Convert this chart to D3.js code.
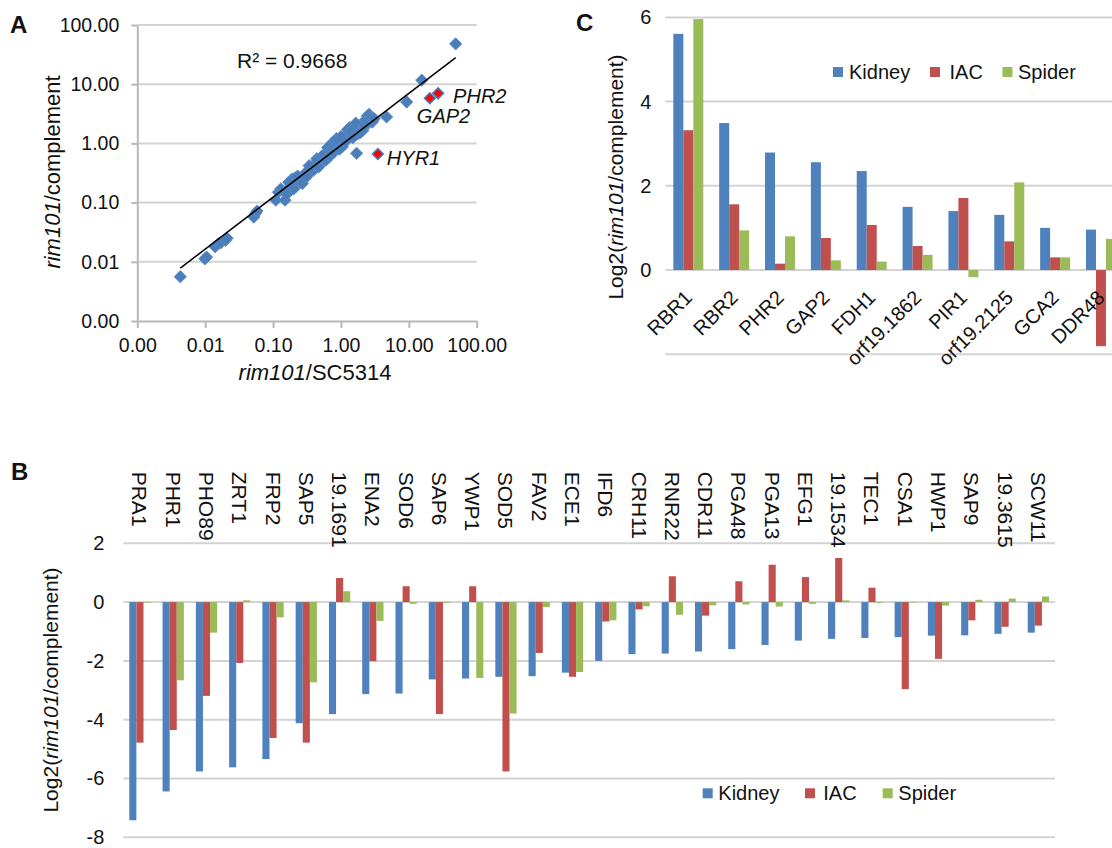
<!DOCTYPE html>
<html><head><meta charset="utf-8">
<script src="https://cdn.jsdelivr.net/npm/d3@7"></script>
<style>
html,body{margin:0;padding:0;background:#fff;}
svg{display:block;font-family:"Liberation Sans",Arial,sans-serif;}
</style></head><body>
<svg id="fig" width="1112" height="848"></svg>
<script>
// ---------------- Panel A data ----------------
const scatterX = [0.0043,0.0099,0.0105,0.014,0.0155,0.017,0.020,0.021,0.052,0.055,0.058,
  0.11,0.12,0.13,0.15,0.16,0.18,0.19,0.21,0.22,0.24,0.26,0.28,0.30,0.32,0.35,0.37,0.40,0.42,
  0.45,0.48,0.50,0.55,0.58,0.62,0.66,0.70,0.72,0.76,0.80,0.82,0.88,0.92,0.98,1.05,1.10,1.20,
  1.30,1.35,1.45,1.55,1.60,1.70,1.75,1.85,2.00,2.10,2.30,2.45,2.55,2.70,2.90,4.70,9.30,15.5,49.0,
  0.17,0.20,0.23,0.27,0.31,0.34,0.39,0.44,0.47,0.53,0.60,0.64,0.68,0.74,0.78,0.86,0.95,1.00,
  1.15,1.25,1.40,1.50,1.65,1.90,2.20,2.40,2.60,2.80,3.10];
const scatterY = [0.0056,0.0112,0.012,0.018,0.020,0.021,0.023,0.025,0.057,0.065,0.072,
  0.11,0.15,0.17,0.11,0.14,0.19,0.25,0.26,0.19,0.22,0.27,0.25,0.31,0.34,0.33,0.40,0.43,0.38,
  0.50,0.45,0.55,0.52,0.62,0.58,0.75,0.68,0.95,1.05,0.80,1.10,0.90,1.00,1.15,0.88,1.05,1.30,
  1.55,1.85,1.30,1.65,1.95,0.68,1.45,1.75,2.10,1.65,2.50,2.90,2.20,2.60,2.30,2.80,5.00,11.7,48.0,
  0.22,0.17,0.28,0.21,0.27,0.42,0.35,0.55,0.40,0.62,0.52,0.85,0.60,0.80,0.70,1.20,0.80,1.30,
  1.05,1.70,1.60,1.25,2.20,1.50,2.00,2.40,3.10,2.70,2.60];
const highlightNames = ["PHR2","GAP2","HYR1"];
const highlightX = [27.0, 20.4, 3.5];
const highlightY = [7.0, 5.8, 0.66];
const trendA = 0.929, trendB = 0.877;   // power trendline y = a*x^b
const rSquaredLabel = "R\u00B2 = 0.9668";
const logTicks = [0.001,0.01,0.1,1,10,100];

// ---------------- Panel B data ----------------
const seriesNames = ["Kidney","IAC","Spider"];
const seriesColors = ["#4F81BD","#C0504D","#9BBB59"];
const genesB = ["PRA1","PHR1","PHO89","ZRT1","FRP2","SAP5","19.1691","ENA2","SOD6","SAP6","YWP1","SOD5","FAV2",
  "ECE1","IFD6","CRH11","RNR22","CDR11","PGA48","PGA13","EFG1","19.1534","TEC1","CSA1","HWP1","SAP9","19.3615","SCW11"];
const kidneyB = [-7.42,-6.44,-5.76,-5.62,-5.34,-4.12,-3.81,-3.13,-3.11,-2.63,-2.60,-2.54,-2.52,
  -2.40,-2.00,-1.77,-1.75,-1.68,-1.60,-1.46,-1.31,-1.25,-1.22,-1.19,-1.14,-1.13,-1.08,-1.04];
const iacB = [-4.78,-4.35,-3.19,-2.07,-4.62,-4.78,0.82,-2.01,0.54,-3.81,0.54,-5.76,-1.73,
  -2.54,-0.66,-0.25,0.88,-0.46,0.71,1.27,0.85,1.50,0.49,-2.96,-1.93,-0.62,-0.84,-0.80];
const spiderB = [-0.02,-2.66,-1.04,0.06,-0.52,-2.73,0.37,-0.64,-0.06,-0.03,-2.58,-3.79,-0.17,
  -2.38,-0.62,-0.14,-0.43,-0.11,-0.08,-0.15,-0.06,0.06,-0.03,-0.02,-0.12,0.08,0.12,0.19];
const ticksB = [-8,-6,-4,-2,0,2];

// ---------------- Panel C data ----------------
const genesC = ["RBR1","RBR2","PHR2","GAP2","FDH1","orf19.1862","PIR1","orf19.2125","GCA2","DDR48"];
const kidneyC = [5.61,3.49,2.79,2.56,2.35,1.50,1.40,1.31,1.00,0.96];
const iacC = [3.32,1.56,0.15,0.76,1.07,0.57,1.71,0.68,0.30,-1.81];
const spiderC = [5.96,0.94,0.80,0.23,0.20,0.36,-0.17,2.08,0.30,0.74];
const ticksC = [0,2,4,6];
const gridC = [-2,0,2,4,6];

// ---------------- drawing ----------------
const svg = d3.select("#fig");
svg.append("rect").attr("width",1112).attr("height",848).attr("fill","#fff");
const GRID = "#d3d3d3", AXIS = "#b8b8b8", TXT = "#111";
const plainNum = d => String(d);   // hyphen-minus like the reference

function styleAxis(g, fs){
  g.selectAll("text").attr("font-size",fs).attr("fill",TXT).attr("font-family","Liberation Sans, Arial, sans-serif");
  g.selectAll("line").attr("stroke",AXIS).attr("stroke-width",2);
  g.select(".domain").attr("stroke",AXIS).attr("stroke-width",2);
}
function panelLetter(t,x,y){
  svg.append("text").attr("x",x).attr("y",y).attr("font-size",24).attr("font-weight","bold").attr("fill",TXT).text(t);
}
function italicTitle(g, parts){
  parts.forEach(p=>g.append("tspan").attr("font-style",p[1]?"italic":"normal").text(p[0]));
}

// ===== Panel A =====
const xA = d3.scaleLog().domain([0.001,100]).range([137.3,476.7]);
const yA = d3.scaleLog().domain([0.001,100]).range([321,25]);
const gA = svg.append("g");
gA.selectAll("line.grid").data(logTicks.slice(1)).join("line")
  .attr("x1",xA(0.001)).attr("x2",xA(100)).attr("y1",d=>yA(d)).attr("y2",d=>yA(d))
  .attr("stroke",GRID).attr("stroke-width",2);
const fmt2 = d3.format(".2f");
const axAL = gA.append("g").attr("transform",`translate(${xA(0.001)},0)`)
  .call(d3.axisLeft(yA).tickValues(logTicks).tickFormat(fmt2).tickSize(6).tickSizeOuter(0).tickPadding(12));
styleAxis(axAL,19.5);
const axAB = gA.append("g").attr("transform",`translate(0,${yA(0.001)})`)
  .call(d3.axisBottom(xA).tickValues(logTicks).tickFormat(fmt2).tickSize(7).tickSizeOuter(0).tickPadding(10));
styleAxis(axAB,19.5);

const allX = scatterX.concat(highlightX);
const xExt = d3.extent(allX);

const diamond = d3.symbol(d3.symbolSquare, 76);
const pts = scatterX.map((x,i)=>({x, y:scatterY[i]}));
const ptG = gA.append("g");
ptG.selectAll("path").data(pts).join("path")
  .attr("d",diamond).attr("transform",d=>`translate(${xA(d.x)},${yA(d.y)}) rotate(45)`)
  .attr("fill","#4A7EBB").attr("stroke","#5b8ac4").attr("stroke-width",0.8);
// power trendline, drawn over the points
gA.append("path").datum(xExt)
  .attr("d", d3.line().x(d=>xA(d)).y(d=>yA(trendA*Math.pow(d,trendB))))
  .attr("stroke","#000").attr("stroke-width",1.5).attr("fill","none");
// R^2 text
gA.append("text").attr("x",237).attr("y",68).attr("font-size",21).attr("fill",TXT).text(rSquaredLabel);
// highlighted genes
const hl = highlightX.map((x,i)=>({x, y:highlightY[i], name:highlightNames[i]}));
const hlOff = {PHR2:[15,10], GAP2:[-13,25], HYR1:[9,11]};
gA.selectAll("path.hl").data(hl).join("path")
  .attr("d",d3.symbol(d3.symbolSquare,60)).attr("transform",d=>`translate(${xA(d.x)},${yA(d.y)}) rotate(45)`)
  .attr("fill","#FF0000").attr("stroke","#4A7EBB").attr("stroke-width",1.5);
gA.selectAll("text.hl").data(hl).join("text")
  .attr("x",d=>xA(d.x)+hlOff[d.name][0]).attr("y",d=>yA(d.y)+hlOff[d.name][1])
  .attr("font-size",20).attr("font-style","italic").attr("fill",TXT).text(d=>d.name);
// axis titles
const tAX = gA.append("text").attr("x",315).attr("y",380).attr("text-anchor","middle").attr("font-size",22).attr("fill",TXT);
italicTitle(tAX,[["rim101",true],["/SC5314",false]]);
const tAY = gA.append("text").attr("transform","translate(60,172) rotate(-90)").attr("text-anchor","middle").attr("font-size",22).attr("fill",TXT);
italicTitle(tAY,[["rim101",true],["/complement",false]]);
panelLetter("A",10,33);

// ===== Panel B =====
const xB = d3.scaleBand().domain(genesB).range([123.3,1055]);
const xBi = d3.scaleBand().domain(seriesNames).range([0.18*xB.bandwidth(),0.82*xB.bandwidth()]);
const yB = d3.scaleLinear().domain([-8,2]).range([837.3,543.3]);
const gB = svg.append("g");
gB.selectAll("line.grid").data(ticksB).join("line")
  .attr("x1",123.3).attr("x2",1055).attr("y1",d=>yB(d)).attr("y2",d=>yB(d))
  .attr("stroke",GRID).attr("stroke-width",2);
const axBL = gB.append("g").attr("transform","translate(123.3,0)")
  .call(d3.axisLeft(yB).tickValues(ticksB).tickFormat(plainNum).tickSize(0).tickPadding(19));
axBL.select(".domain").remove();
styleAxis(axBL,20);
const seriesB = [kidneyB, iacB, spiderB];
seriesB.forEach((vals,si)=>{
  gB.append("g").selectAll("rect").data(genesB.map((g,i)=>({g,v:vals[i]}))).join("rect")
    .attr("x",d=>xB(d.g)+xBi(seriesNames[si])).attr("width",xBi.bandwidth())
    .attr("y",d=>yB(Math.max(0,d.v))).attr("height",d=>Math.abs(yB(d.v)-yB(0)))
    .attr("fill",seriesColors[si]);
});
gB.selectAll("text.cat").data(genesB).join("text")
  .attr("transform",d=>`translate(${xB(d)+xB.bandwidth()/2-7.5},471.7) rotate(90)`)
  .attr("font-size",21).attr("fill",TXT).text(d=>d);
const tBY = gB.append("text").attr("transform","translate(58,690) rotate(-90)").attr("text-anchor","middle").attr("font-size",21).attr("fill",TXT);
italicTitle(tBY,[["Log2(",false],["rim101",true],["/complement)",false]]);
// legend B
const legBx = [[702.7,718.3],[805,823.3],[882.7,898.3]];
seriesNames.forEach((s,i)=>{
  gB.append("rect").attr("x",legBx[i][0]).attr("y",788.3).attr("width",10).attr("height",10).attr("fill",seriesColors[i]);
  gB.append("text").attr("x",legBx[i][1]).attr("y",799.5).attr("font-size",20).attr("fill",TXT).text(s);
});
panelLetter("B",11,480);

// ===== Panel C =====
const xC = d3.scaleBand().domain(genesC).range([665.4,1123.9]);
const xCi = d3.scaleBand().domain(seriesNames).range([0.173*xC.bandwidth(),0.827*xC.bandwidth()]);
const yC = d3.scaleLinear().domain([-2,6]).range([354.2,17.4]);
const gC = svg.append("g");
gC.selectAll("line.grid").data(gridC).join("line")
  .attr("x1",665.4).attr("x2",1123.9).attr("y1",d=>yC(d)).attr("y2",d=>yC(d))
  .attr("stroke",GRID).attr("stroke-width",2);
const axCL = gC.append("g").attr("transform","translate(665.4,0)")
  .call(d3.axisLeft(yC).tickValues(ticksC).tickFormat(plainNum).tickSize(0).tickPadding(14));
axCL.select(".domain").remove();
styleAxis(axCL,20);
const seriesC = [kidneyC, iacC, spiderC];
seriesC.forEach((vals,si)=>{
  gC.append("g").selectAll("rect").data(genesC.map((g,i)=>({g,v:vals[i]}))).join("rect")
    .attr("x",d=>xC(d.g)+xCi(seriesNames[si])).attr("width",xCi.bandwidth())
    .attr("y",d=>yC(Math.max(0,d.v))).attr("height",d=>Math.abs(yC(d.v)-yC(0)))
    .attr("fill",seriesColors[si]);
});
gC.selectAll("text.cat").data(genesC).join("text")
  .attr("transform",d=>`translate(${xC(d)+xC.bandwidth()/2+5},299) rotate(-45)`)
  .attr("text-anchor","end").attr("font-size",20).attr("fill",TXT).text(d=>d);
const tCY = gC.append("text").attr("transform","translate(623,177) rotate(-90)").attr("text-anchor","middle").attr("font-size",21).attr("fill",TXT);
italicTitle(tCY,[["Log2(",false],["rim101",true],["/complement)",false]]);
const legCx = [[833,849],[930,949.5],[1002.5,1018]];
seriesNames.forEach((s,i)=>{
  gC.append("rect").attr("x",legCx[i][0]).attr("y",67).attr("width",10).attr("height",10).attr("fill",seriesColors[i]);
  gC.append("text").attr("x",legCx[i][1]).attr("y",79).attr("font-size",20).attr("fill",TXT).text(s);
});
panelLetter("C",576,31);
</script>
</body></html>
